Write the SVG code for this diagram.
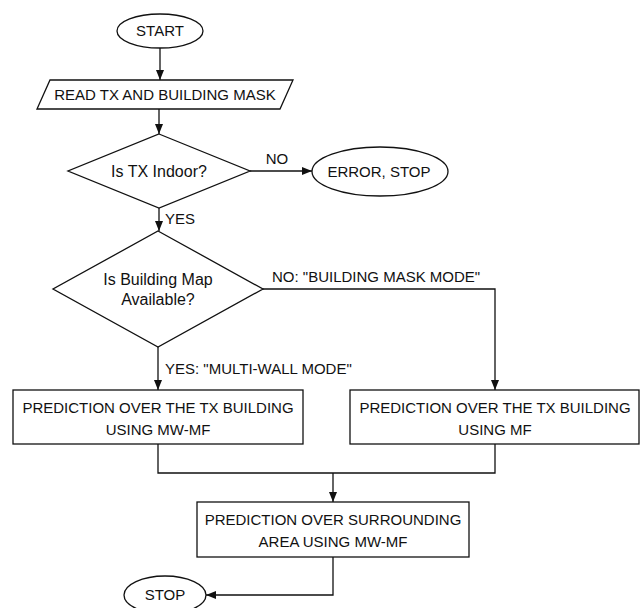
<svg xmlns="http://www.w3.org/2000/svg" width="642" height="608" viewBox="0 0 642 608">
<style>
.s{fill:#fff;stroke:#111;stroke-width:1.3}
.c{fill:none;stroke:#111;stroke-width:1.3}
.t{font-family:"Liberation Sans",Arial,sans-serif;fill:#111}
.u{font-size:15px}
.m{font-size:16px}
.mid{text-anchor:middle}
</style>
<defs>
<marker id="ah" markerUnits="userSpaceOnUse" markerWidth="10" markerHeight="10" viewBox="0 0 10 10" refX="10" refY="5" orient="auto">
<path d="M0,1 L10,5 L0,9 Z" fill="#111"/>
</marker>
</defs>
<rect width="642" height="608" fill="#fff"/>
<g id="connectors">
<line class="c" x1="160" y1="48" x2="160" y2="80" marker-end="url(#ah)"/>
<line class="c" x1="159" y1="109" x2="159" y2="134" marker-end="url(#ah)"/>
<line class="c" x1="250" y1="171" x2="312" y2="171" marker-end="url(#ah)"/>
<text class="t u mid" x="277" y="164">NO</text>
<line class="c" x1="159" y1="208" x2="159" y2="231" marker-end="url(#ah)"/>
<text class="t u" x="165" y="224">YES</text>
<polyline class="c" points="263,289 495,289 495,390" marker-end="url(#ah)"/>
<text class="t u" x="272" y="282">NO: "BUILDING MASK MODE"</text>
<line class="c" x1="158" y1="347" x2="158" y2="390" marker-end="url(#ah)"/>
<text class="t u" x="165" y="374">YES: "MULTI-WALL MODE"</text>
<polyline class="c" points="158,444 158,473 495,473 495,444"/>
<line class="c" x1="333" y1="473" x2="333" y2="502" marker-end="url(#ah)"/>
<polyline class="c" points="333,557 333,595 206,595" marker-end="url(#ah)"/>
</g>
<g id="start">
<ellipse class="s" cx="160" cy="31" rx="43" ry="17"/>
<text class="t u mid" x="160" y="36">START</text>
</g>
<g id="read">
<polygon class="s" points="50,80 293,80 280,109 37,109"/>
<text class="t u mid" x="165" y="100">READ TX AND BUILDING MASK</text>
</g>
<g id="indoor">
<polygon class="s" points="159,134 250,171 159,208 68,171"/>
<text class="t m mid" x="159" y="177">Is TX Indoor?</text>
</g>
<g id="error">
<ellipse class="s" cx="380" cy="171.5" rx="68" ry="24.5"/>
<text class="t u mid" x="379" y="177">ERROR, STOP</text>
</g>
<g id="mapavail">
<polygon class="s" points="158,231 263,289 158,347 53,289"/>
<text class="t m mid" x="158" y="285">Is Building Map</text>
<text class="t m mid" x="158" y="305">Available?</text>
</g>
<g id="mwmf">
<rect class="s" x="13" y="390" width="290" height="54"/>
<text class="t u mid" x="158" y="413">PREDICTION OVER THE TX BUILDING</text>
<text class="t u mid" x="158" y="435">USING MW-MF</text>
</g>
<g id="mf">
<rect class="s" x="350" y="390" width="289" height="54"/>
<text class="t u mid" x="495" y="413">PREDICTION OVER THE TX BUILDING</text>
<text class="t u mid" x="495" y="435">USING MF</text>
</g>
<g id="surround">
<rect class="s" x="197" y="502" width="272" height="55"/>
<text class="t u mid" x="333" y="525">PREDICTION OVER SURROUNDING</text>
<text class="t u mid" x="333" y="547">AREA USING MW-MF</text>
</g>
<g id="stop">
<ellipse class="s" cx="165" cy="595" rx="41" ry="19"/>
<text class="t u mid" x="165" y="600">STOP</text>
</g>
</svg>
